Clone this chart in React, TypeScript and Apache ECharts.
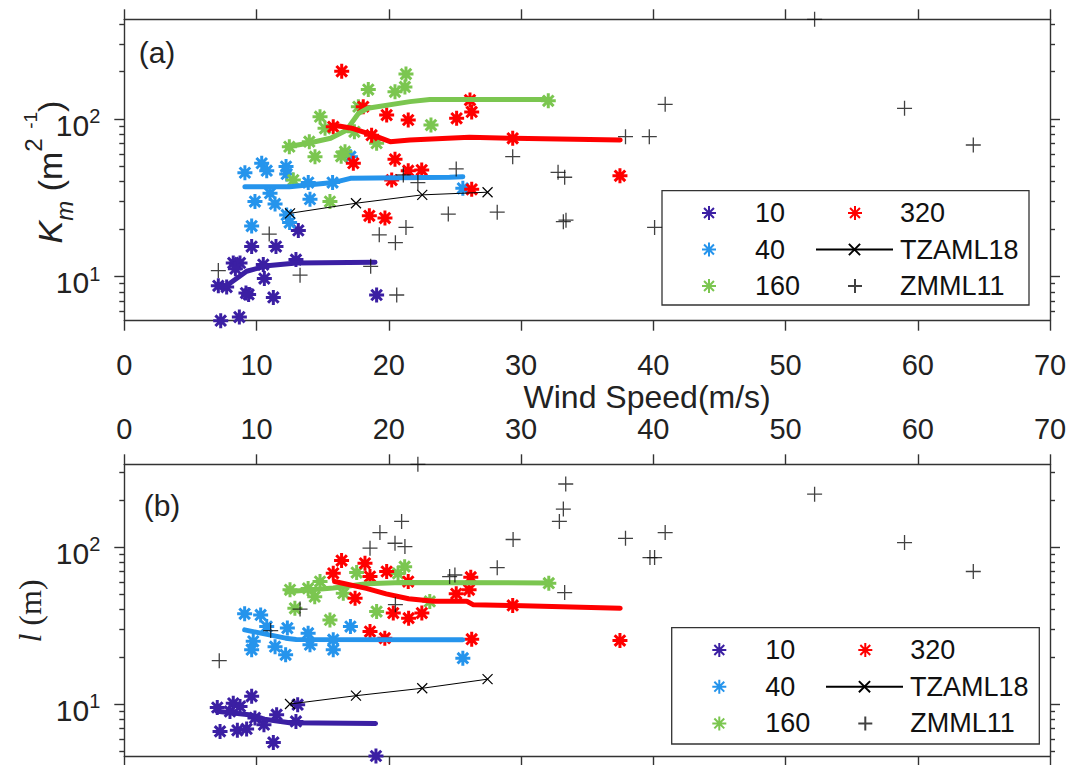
import React, { useEffect, useRef } from 'react';
import * as echarts from 'echarts';

// ---------- axis settings ----------
const X_MIN = 0;
const X_MAX = 70;
const X_STEP = 10;
const yMajorTicks = [10, 100];
const yMinorTicks = [2, 3, 4, 5, 6, 7, 8, 9, 20, 30, 40, 50, 60, 70, 80, 90, 200, 300, 400, 500, 600, 700, 800, 900];
const yRangeA = [5.24, 430];
const yRangeB = [4.66, 338];
const groupNames = ['10', '40', '160', '320'];
const xTitle = 'Wind Speed(m/s)';

// ---------- panel (a): K_m ----------
const a10 = [[7.29, 5.24], [8.7, 5.53], [7.11, 8.73], [7.74, 8.57], [9.2, 7.85], [9.4, 7.7], [11.27, 7.36], [10.59, 9.7], [8.24, 12.2], [8.75, 12.2], [8.4, 11.2], [9.63, 15.5], [11.47, 15.5], [13.16, 19.6], [10.51, 11.9], [12.98, 12.8], [19.08, 7.63]];
const a40 = [[9.12, 45.6], [10.39, 52.4], [10.77, 47], [12.23, 49.9], [12.28, 44.8], [9.88, 29.9], [11.02, 33.8], [11.4, 28.9], [9.63, 20.9], [12.28, 24.6], [12.5, 22], [13.91, 39.5], [14.04, 31], [15.75, 39.5], [17.1, 57.7], [25.6, 36.3]];
const a160 = [[12.48, 66.7], [13.99, 71.8], [14.42, 57.7], [14.8, 103.5], [15.18, 87.3], [16.69, 62], [16.4, 58], [17.7, 119.7], [18.45, 154], [20.47, 149], [21.22, 160], [21.3, 193], [23.19, 91.6], [15.55, 29.9], [12.78, 41], [19.08, 70.2], [17.4, 83], [32.06, 130.6]];
const a320 = [[16.44, 201], [18.07, 119.7], [19.84, 106], [21.47, 98.6], [25.13, 101], [26.14, 132], [26.27, 111], [15.8, 89.3], [18.7, 79], [29.37, 75.5], [37.48, 43.6], [20.47, 55.5], [17.32, 52.4], [21.47, 47], [22.49, 47.4], [20.22, 41], [26.27, 35.8], [18.53, 24.3], [19.71, 23.5]];
const a10Fit = [[7.11, 8.64], [7.7, 8.7], [9.25, 10.8], [10.8, 11.7], [13.0, 12.2], [18.96, 12.3]];
const a40Fit = [[9.12, 37.2], [12.5, 37.2], [15.8, 39.5], [17.1, 42], [24.6, 42.7], [25.6, 43]];
const a160Fit = [[12.3, 66.7], [13.9, 70.2], [15.6, 75.5], [16.8, 85], [17.7, 108.5], [18.4, 117], [21.6, 129], [23.1, 133], [32.1, 133]];
const a320Fit = [[15.8, 91.6], [17.3, 87], [18.8, 79], [20.1, 71.8], [21.6, 73.6], [26.1, 76.6], [29.4, 75.5], [37.5, 73.6]];
const aTZAML18 = [[12.53, 25.2], [17.52, 29.2], [22.53, 33.0], [27.47, 34.3]];
const aZMML11 = [[7.11, 10.9], [10.96, 18.6], [13.29, 10.2], [18.63, 11.6], [20.6, 7.63], [19.28, 18.4], [20.5, 16.4], [21.3, 20.5], [22.2, 39.5], [21.1, 44.2], [25.1, 48.2], [24.5, 24.9], [28.2, 25.6], [29.37, 57.7], [32.8, 45.9], [33.3, 42.7], [33.2, 22.3], [33.4, 22.8], [37.9, 77.3], [39.7, 77.3], [40.9, 124], [40.1, 20.5], [52.2, 430], [59.0, 117], [64.2, 68.4]];

// ---------- panel (b): l ----------
const b10 = [[7.03, 9.5], [8.24, 10.1], [7.99, 8.97], [8.75, 9.65], [9.63, 11.2], [7.24, 6.69], [8.55, 6.8], [9.25, 6.93], [10.56, 7.38], [11.52, 8.55], [11.27, 5.69], [13.11, 9.9], [12.98, 7.74], [19.03, 4.66], [9.88, 8.15]];
const b40 = [[9.1, 37.6], [10.31, 37], [10.77, 31.2], [12.33, 30.5], [9.75, 25.1], [9.63, 22.2], [11.4, 23.2], [12.2, 20.6], [13.9, 28.3], [14.04, 23.9], [15.8, 25.7], [15.8, 22.2], [17.1, 31.2], [25.6, 19.6]];
const b160 = [[12.53, 53.5], [13.9, 54.6], [14.8, 60.4], [14.4, 48.4], [12.9, 40.8], [15.55, 34.4], [16.56, 50.9], [17.57, 68.9], [19.08, 38.9], [21.2, 75.2], [20.7, 68], [23.1, 45.1], [32.1, 59]];
const b320 = [[15.8, 68.2], [16.43, 82.2], [18.2, 79], [18.58, 65], [19.84, 70], [21.47, 60.4], [17.45, 47.3], [20.34, 38], [21.5, 35.3], [22.5, 38], [18.58, 29], [19.7, 26.3], [26.2, 64.4], [25.1, 50.5], [26.07, 53.5], [29.37, 42.5], [26.27, 25.9], [37.48, 25.4]];
const b10Fit = [[7.0, 9.0], [9.6, 8.5], [10.6, 8.0], [12.5, 7.6], [19.0, 7.5]];
const b40Fit = [[9.1, 29.7], [12.2, 26.3], [13.0, 25.8], [25.6, 25.7]];
const b160Fit = [[12.3, 52], [15.8, 55], [18.3, 58.5], [21.0, 59.6], [32.1, 59.2]];
const b320Fit = [[15.9, 60.4], [18.3, 54.6], [19.8, 50.4], [21.5, 46.9], [23.4, 45.2], [25.9, 45.2], [26.4, 42.9], [29.4, 42.5], [37.5, 40.8]];
const bTZAML18 = [[12.53, 10.0], [17.52, 11.3], [22.53, 12.6], [27.47, 14.4]];
const bZMML11 = [[7.18, 18.9], [11.07, 29.4], [13.29, 40.3], [18.58, 98.6], [19.33, 124], [20.97, 146], [20.47, 106], [21.22, 101], [22.2, 338], [20.5, 43], [24.6, 65], [25.0, 66.5], [33.38, 253], [33.2, 175], [32.9, 146], [29.4, 112], [28.2, 74.1], [33.3, 51.4], [37.9, 114], [40.9, 124], [39.75, 85.9], [40.1, 85.9], [52.2, 218], [59.0, 107], [64.2, 70]];

// ---------- styles ----------
const colors = ['#3B1FA3', '#2594EC', '#7BC650', '#FF0000'];
const FONT = '"Liberation Sans", Arial, Helvetica, sans-serif';
const SERIF = '"Liberation Serif", "Times New Roman", serif';
const AX = '#333333';
const TXT = '#222222';
const ASTERISK = 'path://M0,-10L0,10M-10,0L10,0M-7.07,-7.07L7.07,7.07M-7.07,7.07L7.07,-7.07';
const PLUS = 'path://M0,-10L0,10M-10,0L10,0';
const CROSS = 'path://M-10,-10L10,10M-10,10L10,-10';

const panels = [
  { xi: 0, yi: 0, pts: [a10, a40, a160, a320], fits: [a10Fit, a40Fit, a160Fit, a320Fit], tz: aTZAML18, zm: aZMML11 },
  { xi: 2, yi: 4, pts: [b10, b40, b160, b320], fits: [b10Fit, b40Fit, b160Fit, b320Fit], tz: bTZAML18, zm: bZMML11 },
];

function buildSeries() {
  const out: any[] = [];
  panels.forEach((p, pi) => {
    p.pts.forEach((d, i) => {
      out.push({
        type: 'scatter', name: groupNames[i], xAxisIndex: p.xi, yAxisIndex: p.yi, data: d,
        symbol: ASTERISK, symbolSize: 15, clip: false, z: 2,
        itemStyle: { color: colors[i], borderColor: colors[i], borderWidth: 3, opacity: 1 },
      });
    });
    p.fits.forEach((d, i) => {
      out.push({
        type: 'line', name: groupNames[i] + ' fit ' + pi, xAxisIndex: p.xi, yAxisIndex: p.yi, data: d,
        symbol: 'none', z: 3,
        lineStyle: { color: colors[i], width: 5, join: 'round', cap: 'round' },
        itemStyle: { color: colors[i] },
      });
    });
    out.push({
      type: 'line', name: 'TZAML18', xAxisIndex: p.xi, yAxisIndex: p.yi, data: p.tz,
      symbol: CROSS, symbolSize: 10, showSymbol: true, z: 4,
      lineStyle: { color: '#000', width: 1 },
      itemStyle: { color: '#000', borderColor: '#000', borderWidth: 1.2 },
    });
    out.push({
      type: 'scatter', name: 'ZMML11', xAxisIndex: p.xi, yAxisIndex: p.yi, data: p.zm,
      symbol: PLUS, symbolSize: 15, clip: false, z: 4,
      itemStyle: { color: '#000', borderColor: '#111', borderWidth: 1.3 },
    });
  });
  return out;
}

const lineStyle = { color: AX, width: 1.4 };

function xAxes() {
  const base = {
    type: 'value', min: X_MIN, max: X_MAX, interval: X_STEP,
    splitLine: { show: false },
    axisLine: { show: true, onZero: false, lineStyle },
    axisTick: { show: true, inside: false, length: 10, lineStyle },
  };
  const lbl = { fontSize: 29, fontFamily: FONT, color: TXT };
  return [
    {
      ...base, gridIndex: 0, position: 'bottom',
      axisLabel: { ...lbl, margin: 30 },
      name: xTitle, nameLocation: 'middle', nameGap: 61.5,
      nameTextStyle: { fontSize: 32, lineHeight: 28, fontFamily: FONT, color: TXT, padding: [0, 0, 0, 120] },
    },
    { ...base, gridIndex: 0, position: 'top', axisLabel: { show: false } },
    { ...base, gridIndex: 1, position: 'top', axisLabel: { ...lbl, lineHeight: 26, margin: 22 } },
    { ...base, gridIndex: 1, position: 'bottom', axisLabel: { show: false } },
  ];
}

function yAxes(gridIndex: number, range: number[]) {
  const major = yMajorTicks.filter((v) => v >= range[0] && v <= range[1]);
  const minor = yMinorTicks.filter((v) => v > range[0] && v < range[1]);
  const base = {
    type: 'log', logBase: 10, gridIndex, min: range[0], max: range[1],
    splitLine: { show: false }, minorTick: { show: false },
  };
  return [
    {
      ...base, position: 'left',
      axisLine: { show: true, lineStyle },
      axisTick: { show: true, inside: false, length: 10, customValues: major, lineStyle },
      axisLabel: {
        show: true, customValues: major, margin: 24,
        formatter: (v: number) => '{b|10}{s|' + Math.round(Math.log10(v)) + '}',
        rich: {
          b: { fontSize: 30, fontFamily: FONT, color: TXT, padding: [12, 0, 0, 0] },
          s: { fontSize: 20, fontFamily: FONT, color: TXT, padding: [0, 0, 6, 0] },
        },
      },
    },
    {
      ...base, position: 'left',
      axisLine: { show: false },
      axisTick: { show: true, inside: false, length: 5, customValues: minor, lineStyle },
      axisLabel: { show: false },
    },
    {
      ...base, position: 'right',
      axisLine: { show: true, lineStyle },
      axisTick: { show: true, inside: false, length: 10, customValues: major, lineStyle },
      axisLabel: { show: false },
    },
    {
      ...base, position: 'right',
      axisLine: { show: false },
      axisTick: { show: true, inside: false, length: 5, customValues: minor, lineStyle },
      axisLabel: { show: false },
    },
  ];
}

const legendText = { fontSize: 27, fontFamily: FONT, color: '#111', lineHeight: 30 };
function legendCol(data: string[], left: number, top: number, gap: number, wide: boolean, padLeft: number) {
  return {
    orient: 'vertical', padding: 0, selectedMode: false,
    itemWidth: wide ? 77 : 14, itemHeight: 14, itemGap: gap,
    data, left, top,
    textStyle: { ...legendText, padding: [0, 0, 0, padLeft] },
  };
}

export default function App() {
  const ref = useRef<HTMLDivElement>(null);
  useEffect(() => {
    if (!ref.current) return;
    const chart = echarts.init(ref.current, null, { renderer: 'svg' });
    const option: any = {
      animation: false,
      backgroundColor: '#ffffff',
      grid: [
        { left: 124.3, top: 19.3, width: 925.7, height: 301.4 },
        { left: 124.3, top: 464.3, width: 925.7, height: 291.7 },
      ],
      xAxis: xAxes(),
      yAxis: [...yAxes(0, yRangeA), ...yAxes(1, yRangeB)],
      legend: [
        legendCol(['10', '40', '160'], 701, 198, 6.5, false, 34),
        legendCol(['320', 'ZMML11'], 847, 198, 43, false, 33),
        legendCol(['TZAML18'], 815, 234.5, 6.5, true, 2),
        legendCol(['10', '40', '160'], 711.3, 635, 6.7, false, 34),
        legendCol(['320', 'ZMML11'], 857.3, 635, 43.4, false, 33),
        legendCol(['TZAML18'], 825, 671.7, 6.7, true, 2),
      ],
      graphic: [
        { type: 'rect', z: 3.9, shape: { x: 662, y: 190.7, width: 367, height: 114.3 }, style: { fill: '#fff', stroke: AX, lineWidth: 1.3 } },
        { type: 'rect', z: 3.9, shape: { x: 671.7, y: 627.7, width: 367.6, height: 116.3 }, style: { fill: '#fff', stroke: AX, lineWidth: 1.3 } },
        { type: 'text', z: 5, x: 157, y: 52.5, style: { text: '(a)', font: '30px ' + FONT, fill: TXT, align: 'center', verticalAlign: 'middle' } },
        { type: 'text', z: 5, x: 162, y: 505, style: { text: '(b)', font: '30px ' + FONT, fill: TXT, align: 'center', verticalAlign: 'middle' } },
        {
          type: 'text', z: 5, x: 50, y: 172, rotation: Math.PI / 2,
          style: {
            text: '{k|K}{sub|m}{n| (m}{sup|2}{n| }{sup2|-1}{n|)}',
            align: 'center', verticalAlign: 'middle', fill: TXT,
            rich: {
              k: { fontSize: 34, fontStyle: 'italic', fontFamily: FONT, fill: TXT },
              sub: { fontSize: 24, fontStyle: 'italic', fontFamily: FONT, fill: TXT, padding: [28, 0, 0, 0] },
              n: { fontSize: 34, fontFamily: FONT, fill: TXT },
              sup: { fontSize: 24, fontFamily: FONT, fill: TXT, padding: [0, 0, 34, 0] },
              sup2: { fontSize: 19, fontFamily: FONT, fill: TXT, padding: [0, 0, 40, 0] },
            },
          },
        },
        {
          type: 'text', z: 5, x: 30, y: 611, rotation: Math.PI / 2,
          style: {
            text: '{l|l}{n| (m)}',
            align: 'center', verticalAlign: 'middle', fill: TXT,
            rich: {
              l: { fontSize: 32, fontStyle: 'italic', fontFamily: SERIF, fill: TXT },
              n: { fontSize: 32, fontFamily: SERIF, fill: TXT },
            },
          },
        },
      ],
      series: buildSeries(),
    };
    chart.setOption(option);
    return () => chart.dispose();
  }, []);
  return (
    <div
      ref={ref}
      style={{ position: 'absolute', left: 0, top: 0, width: 1087, height: 765, background: '#fff' }}
    />
  );
}
